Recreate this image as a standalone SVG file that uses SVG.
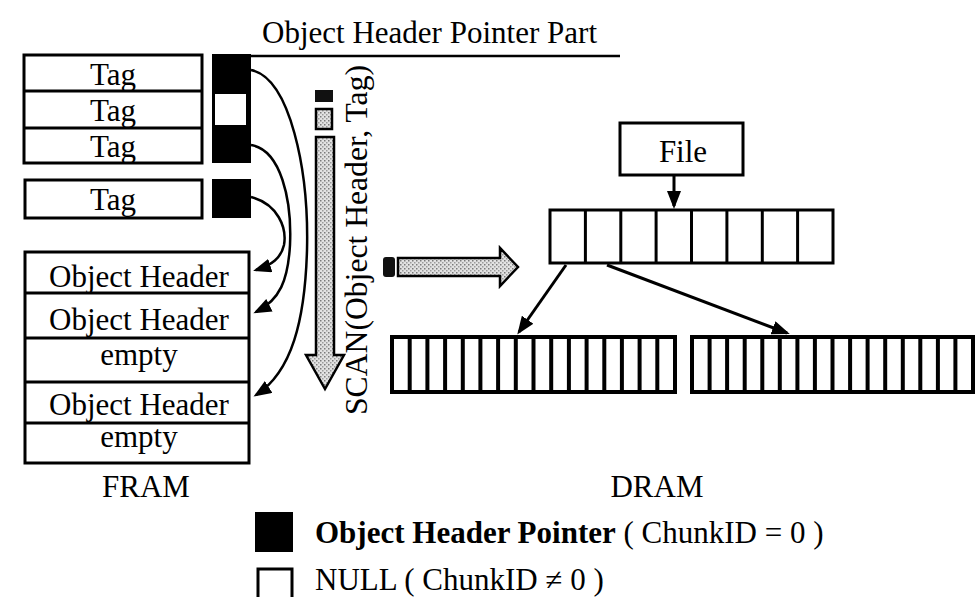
<svg xmlns="http://www.w3.org/2000/svg" width="979" height="597" viewBox="0 0 979 597">
  <style>
    .box { fill: #fff; stroke: #000; stroke-width: 3; }
    .thick { fill: #fff; stroke: #000; stroke-width: 4; }
    .div { stroke: #000; stroke-width: 3; }
    .div4 { stroke: #000; stroke-width: 4; }
    .lbl { font-family: "Liberation Serif", "Times New Roman", serif; font-size: 31px; fill: #000; }
    .mid { text-anchor: middle; }
    .wire { fill: none; stroke: #000; stroke-width: 2.5; }
    .wire3 { fill: none; stroke: #000; stroke-width: 3; }
    .hatch { fill: url(#dots); stroke: #000; stroke-width: 2.5; }
  </style>
  <defs>
    <pattern id="dots" width="4" height="4" patternUnits="userSpaceOnUse">
      <rect width="4" height="4" fill="#e2e2e2"/>
      <rect x="0" y="0" width="1.5" height="1.5" fill="#7a7a7a"/>
      <rect x="2" y="2" width="1.5" height="1.5" fill="#9c9c9c"/>
    </pattern>
    <marker id="ah" viewBox="0 0 18 14" refX="15" refY="7" markerWidth="18" markerHeight="14" markerUnits="userSpaceOnUse" orient="auto">
      <path d="M0,0 L18,7 L0,14 Z" fill="#000"/>
    </marker>
  </defs>

  <rect width="979" height="597" fill="#fff"/>

  <!-- title with underline -->
  <g id="title">
    <text class="lbl" x="262" y="43" textLength="335" lengthAdjust="spacingAndGlyphs">Object Header Pointer Part</text>
    <line x1="251" y1="56" x2="620" y2="56" stroke="#000" stroke-width="2.5"/>
  </g>

  <!-- tag entries -->
  <g id="tags">
    <rect class="box" x="24" y="55" width="178" height="108"/>
    <line class="div" x1="24" y1="91" x2="202" y2="91"/>
    <line class="div" x1="24" y1="128" x2="202" y2="128"/>
    <text class="lbl mid" x="113" y="85">Tag</text>
    <text class="lbl mid" x="113" y="121">Tag</text>
    <text class="lbl mid" x="113" y="157">Tag</text>
  </g>
  <g id="tag4">
    <rect class="box" x="25" y="180" width="177" height="38"/>
    <text class="lbl mid" x="113" y="210">Tag</text>
  </g>

  <!-- object header pointer column -->
  <g id="pointers">
    <rect x="212" y="54" width="39" height="109" fill="#000"/>
    <rect x="215" y="94" width="31" height="31" fill="#fff"/>
    <rect x="212" y="179" width="39" height="39" fill="#000"/>
  </g>

  <!-- FRAM object header area -->
  <g id="fram">
    <rect class="box" x="25" y="252" width="224" height="211"/>
    <line class="div" x1="25" y1="293" x2="249" y2="293"/>
    <line class="div" x1="25" y1="338" x2="249" y2="338"/>
    <line class="div" x1="25" y1="382" x2="249" y2="382"/>
    <line class="div" x1="25" y1="423" x2="249" y2="423"/>
    <text class="lbl mid" x="139" y="287">Object Header</text>
    <text class="lbl mid" x="139" y="330">Object Header</text>
    <text class="lbl mid" x="139" y="365">empty</text>
    <text class="lbl mid" x="139" y="415">Object Header</text>
    <text class="lbl mid" x="139" y="447">empty</text>
    <text class="lbl mid" x="146" y="497">FRAM</text>
  </g>

  <!-- scan arrow and label -->
  <g id="scan">
    <rect x="315" y="90" width="18" height="12" fill="#111"/>
    <rect x="316" y="109" width="16" height="20" fill="url(#dots)" stroke="#000" stroke-width="2.5"/>
    <path class="hatch" d="M316,137 L334,137 L334,355 L344,355 L325,389 L306,355 L316,355 Z"/>
    <text class="lbl" transform="translate(367,415) rotate(-90)" textLength="350" lengthAdjust="spacingAndGlyphs">SCAN(Object Header, Tag)</text>
  </g>

  <!-- transfer arrow to DRAM -->
  <g id="transfer">
    <rect x="383" y="257" width="12" height="20" rx="3" fill="#111"/>
    <path class="hatch" d="M398,258 L500,258 L500,248 L518,267 L500,286 L500,276 L398,276 Z"/>
  </g>

  <!-- file node -->
  <g id="file">
    <rect class="box" x="620" y="123" width="123" height="52"/>
    <text class="lbl mid" x="683" y="162">File</text>
  </g>

  <!-- DRAM index array -->
  <g id="dram-index">
    <rect class="box" x="550" y="210" width="283" height="53"/>
    <line class="div" x1="585.4" y1="210" x2="585.4" y2="263"/>
    <line class="div" x1="620.8" y1="210" x2="620.8" y2="263"/>
    <line class="div" x1="656.1" y1="210" x2="656.1" y2="263"/>
    <line class="div" x1="691.5" y1="210" x2="691.5" y2="263"/>
    <line class="div" x1="726.9" y1="210" x2="726.9" y2="263"/>
    <line class="div" x1="762.3" y1="210" x2="762.3" y2="263"/>
    <line class="div" x1="797.6" y1="210" x2="797.6" y2="263"/>
  </g>

  <!-- DRAM chunk arrays -->
  <g id="dram-chunks-a">
    <rect class="thick" x="392" y="337" width="283" height="55"/>
    <g class="div4">
      <line x1="409.7" y1="337" x2="409.7" y2="392"/>
      <line x1="427.4" y1="337" x2="427.4" y2="392"/>
      <line x1="445.1" y1="337" x2="445.1" y2="392"/>
      <line x1="462.8" y1="337" x2="462.8" y2="392"/>
      <line x1="480.4" y1="337" x2="480.4" y2="392"/>
      <line x1="498.1" y1="337" x2="498.1" y2="392"/>
      <line x1="515.8" y1="337" x2="515.8" y2="392"/>
      <line x1="533.5" y1="337" x2="533.5" y2="392"/>
      <line x1="551.2" y1="337" x2="551.2" y2="392"/>
      <line x1="568.9" y1="337" x2="568.9" y2="392"/>
      <line x1="586.6" y1="337" x2="586.6" y2="392"/>
      <line x1="604.3" y1="337" x2="604.3" y2="392"/>
      <line x1="621.9" y1="337" x2="621.9" y2="392"/>
      <line x1="639.6" y1="337" x2="639.6" y2="392"/>
      <line x1="657.3" y1="337" x2="657.3" y2="392"/>
    </g>
  </g>
  <g id="dram-chunks-b">
    <rect class="thick" x="692" y="337" width="281" height="55"/>
    <g class="div4">
      <line x1="709.6" y1="337" x2="709.6" y2="392"/>
      <line x1="727.1" y1="337" x2="727.1" y2="392"/>
      <line x1="744.7" y1="337" x2="744.7" y2="392"/>
      <line x1="762.3" y1="337" x2="762.3" y2="392"/>
      <line x1="779.8" y1="337" x2="779.8" y2="392"/>
      <line x1="797.4" y1="337" x2="797.4" y2="392"/>
      <line x1="814.9" y1="337" x2="814.9" y2="392"/>
      <line x1="832.5" y1="337" x2="832.5" y2="392"/>
      <line x1="850.1" y1="337" x2="850.1" y2="392"/>
      <line x1="867.6" y1="337" x2="867.6" y2="392"/>
      <line x1="885.2" y1="337" x2="885.2" y2="392"/>
      <line x1="902.8" y1="337" x2="902.8" y2="392"/>
      <line x1="920.3" y1="337" x2="920.3" y2="392"/>
      <line x1="937.9" y1="337" x2="937.9" y2="392"/>
      <line x1="955.4" y1="337" x2="955.4" y2="392"/>
    </g>
  </g>
  <g id="dram-label">
    <text class="lbl mid" x="657" y="497">DRAM</text>
  </g>

  <!-- connectors -->
  <g id="connectors">
    <path class="wire" d="M251,70 C290,78 309,170 307,250 C305,320 292,372 256,395" marker-end="url(#ah)"/>
    <path class="wire" d="M251,145 C281,150 292,200 290,245 C288,280 280,300 256,312" marker-end="url(#ah)"/>
    <path class="wire" d="M251,197 C278,204 287,228 284,245 C281,258 272,265 256,270" marker-end="url(#ah)"/>
    <line class="wire3" x1="674" y1="175" x2="674" y2="206" marker-end="url(#ah)"/>
    <line class="wire3" x1="566" y1="265" x2="519" y2="332" marker-end="url(#ah)"/>
    <line class="wire3" x1="607" y1="265" x2="787" y2="333" marker-end="url(#ah)"/>
  </g>

  <!-- legend -->
  <g id="legend">
    <rect x="255" y="512" width="38" height="40" fill="#000"/>
    <rect x="258" y="569" width="34" height="40" fill="#fff" stroke="#000" stroke-width="3"/>
    <text class="lbl" x="315" y="543"><tspan font-weight="bold">Object Header Pointer</tspan> ( ChunkID = 0 )</text>
    <text class="lbl" x="315" y="590">NULL ( ChunkID ≠ 0 )</text>
  </g>
</svg>
